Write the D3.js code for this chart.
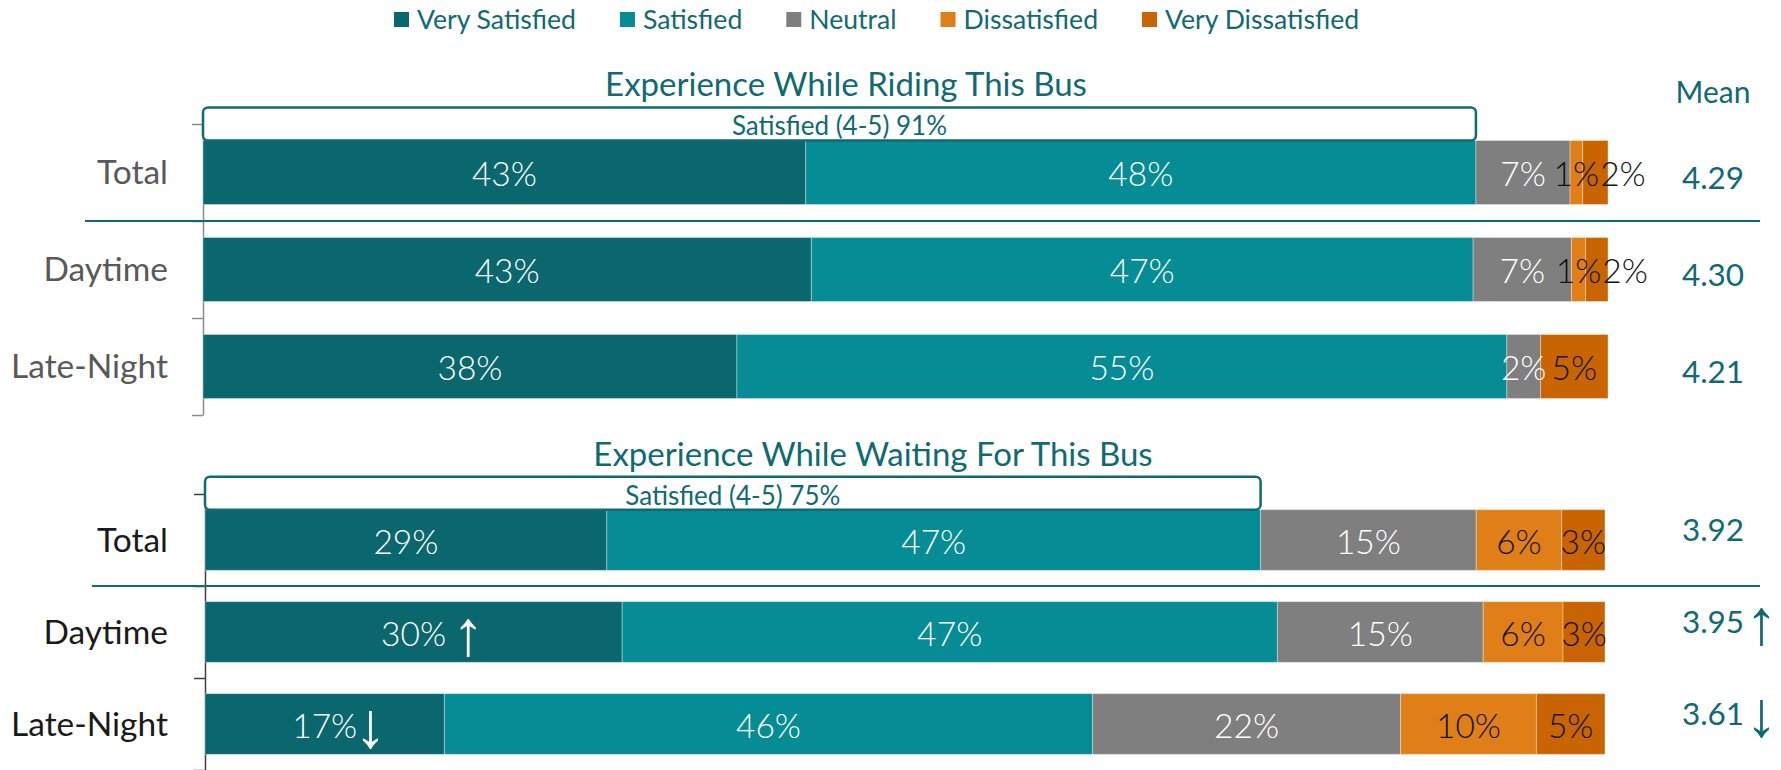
<!DOCTYPE html>
<html>
<head>
<meta charset="utf-8">
<script src="https://cdn.jsdelivr.net/npm/d3@7"></script>
<style>
  body { margin: 0; background: #fff; }
  svg { font-family: Lato, "Open Sans", sans-serif; }
</style>
</head>
<body>
<div id="chart"></div>
<script>
// categories and answer levels
const categories = ["Total", "Daytime", "Late-Night"];
const levels = ["Very Satisfied", "Satisfied", "Neutral", "Dissatisfied", "Very Dissatisfied"];
const levelColors = ["#0b676e", "#058c94", "#7f7f7f", "#e07f17", "#c96402"];

// riding the bus (% per level, rows = categories)
const ridingTitle = "Experience While Riding This Bus";
const ridingValues = [
    [42.9, 47.7, 6.7, 0.9, 1.8],
    [43.3, 47.1, 7.0, 1.0, 1.6],
    [38.0, 54.8, 2.4, 0.0, 4.8]
];
const ridingMeans = ["4.29", "4.30", "4.21"];
const ridingMeanTrend = ["", "", ""];
const ridingBarTrend = ["", "", ""];
const ridingSatisfied = 91;

// waiting for the bus
const waitingTitle = "Experience While Waiting For This Bus";
const waitingValues = [
    [28.7, 46.7, 15.4, 6.1, 3.1],
    [29.8, 46.8, 14.7, 5.7, 3.0],
    [17.1, 46.3, 22.0, 9.7, 4.9]
];
const waitingMeans = ["3.92", "3.95", "3.61"];
const waitingMeanTrend = ["", "↑", "↓"];
const waitingBarTrend = ["", "↑", "↓"];
const waitingBarGap = [0, 6, -3];
const waitingSatisfied = 75;

const teal = "#0f6a71";
const W = 1781, H = 770;
const arrowFont = "'Liberation Sans', 'DejaVu Sans', sans-serif";
const arrowSize = 64;

let svg = d3.select("#chart")
    .append("svg")
    .attr("width", W)
    .attr("height", H);

// legend
let legend = svg.append("g");
let lx = 394;
levels.forEach((l, i) => {
    legend.append("rect")
        .attr("x", lx).attr("y", 12)
        .attr("width", 15).attr("height", 15)
        .attr("fill", levelColors[i]);
    let t = legend.append("text")
        .attr("x", lx + 23).attr("y", 20)
        .attr("dy", "0.35em")
        .attr("font-size", 26.6)
        .attr("fill", teal)
        .text(l);
    lx += 23 + t.node().getComputedTextLength() + 44;
});

function arrow(g, x, cy, s, color) {
    g.append("text")
        .attr("x", x).attr("y", cy)
        .attr("dy", "0.33em")
        .attr("font-family", arrowFont)
        .attr("font-weight", 400)
        .attr("font-size", arrowSize)
        .attr("fill", color)
        .text(s);
}

function drawPanel(p) {
    let g = svg.append("g");

    let x = d3.scaleLinear().domain([0, 100]).range([p.x0, p.x1]);
    let y = d3.scaleBand()
        .domain(categories)
        .range([p.yTop, p.yTop + p.step * categories.length])
        .paddingInner(0.34)
        .paddingOuter(0.17);

    let rows = categories.map((c, i) => {
        let o = { category: c };
        levels.forEach((l, j) => o[l] = p.values[i][j]);
        return o;
    });
    let series = d3.stack().keys(levels)(rows);

    // category axis, ticks between categories
    let edges = d3.scaleLinear().domain([0, categories.length])
        .range([p.yTop, p.yTop + p.step * categories.length]);
    let axis = g.append("g")
        .attr("transform", "translate(" + p.x0 + ",0)")
        .call(d3.axisLeft(edges).tickValues(d3.range(categories.length + 1))
            .tickFormat("").tickSizeOuter(0).tickSizeInner(11));
    axis.selectAll("path, line").attr("stroke", p.axisColor).attr("stroke-width", 1.5);

    // bars
    g.append("g")
        .selectAll("g")
        .data(series)
        .enter()
        .append("g")
        .attr("fill", (d, i) => levelColors[i])
        .selectAll("rect")
        .data(d => d)
        .enter()
        .append("rect")
        .attr("x", d => x(d[0]))
        .attr("y", d => y(d.data.category))
        .attr("width", d => x(d[1]) - x(d[0]))
        .attr("height", y.bandwidth())
        .attr("stroke", "#ffffff")
        .attr("stroke-opacity", 0.35)
        .attr("stroke-width", 1);

    // separator under Total
    g.append("line")
        .attr("x1", p.sepX0).attr("x2", 1760)
        .attr("y1", edges(1)).attr("y2", edges(1))
        .attr("stroke", teal).attr("stroke-width", 2);

    // segment labels
    let labels = g.append("g")
        .attr("font-size", 33.5)
        .attr("font-weight", 300);
    categories.forEach((c, i) => {
        let prevRight = -Infinity;
        series.forEach((s, j) => {
            let d = s[i];
            let v = d[1] - d[0];
            if (v <= 0) return;
            let cx = (x(d[0]) + x(d[1])) / 2;
            let cy = y(c) + y.bandwidth() / 2 + 2;
            let t = labels.append("text")
                .attr("y", cy)
                .attr("dy", "0.35em")
                .attr("fill", j < 3 ? "#ffffff" : "#111111")
                .text(Math.round(v) + "%");
            let w = t.node().getComputedTextLength();
            let left = Math.max(cx - w / 2, prevRight + 1);
            t.attr("x", left);
            prevRight = left + w;
            if (j === 0 && p.barTrend[i]) {
                arrow(labels, left + w + p.barGap[i], cy, p.barTrend[i], "#ffffff");
            }
        });
    });

    // category names
    g.append("g")
        .selectAll("text")
        .data(categories)
        .enter()
        .append("text")
        .attr("x", 168)
        .attr("y", d => y(d) + y.bandwidth() / 2)
        .attr("dy", "0.35em")
        .attr("text-anchor", "end")
        .attr("font-size", 33.5)
        .attr("fill", p.labelColor)
        .text(d => d);

    // satisfied (4-5) box
    let top2 = p.values[0][0] + p.values[0][1];
    let by = y(categories[0]) - 33;
    g.append("rect")
        .attr("x", x(0)).attr("y", by)
        .attr("width", x(top2) - x(0)).attr("height", 33)
        .attr("rx", 5)
        .attr("fill", "#ffffff")
        .attr("stroke", teal).attr("stroke-width", 2.5);
    g.append("text")
        .attr("x", (x(0) + x(top2)) / 2)
        .attr("y", by + 28)
        .attr("text-anchor", "middle")
        .attr("font-size", 26)
        .attr("fill", teal)
        .text("Satisfied (4-5) " + p.satisfied + "%");

    // title
    g.append("text")
        .attr("x", p.titleX)
        .attr("y", by - 11)
        .attr("text-anchor", "middle")
        .attr("font-size", 33)
        .attr("fill", teal)
        .text(p.title);

    // means
    categories.forEach((c, i) => {
        let my = y(c) + y.bandwidth() / 2 + p.meanDy;
        let t = g.append("text")
            .attr("x", 1713).attr("y", my)
            .attr("dy", "0.35em")
            .attr("text-anchor", "middle")
            .attr("font-size", 31.5)
            .attr("fill", teal)
            .text(p.means[i]);
        if (p.meanTrend[i]) {
            let w = t.node().getComputedTextLength();
            arrow(g, 1713 + w / 2 + 1, my + 1, p.meanTrend[i], teal);
        }
    });
}

drawPanel({
    title: ridingTitle, values: ridingValues, means: ridingMeans,
    meanTrend: ridingMeanTrend, barTrend: ridingBarTrend, barGap: [0, 0, 0],
    satisfied: ridingSatisfied,
    x0: 203, x1: 1608, yTop: 124, step: 97, titleX: 846, meanDy: 5,
    labelColor: "#595959", axisColor: "#8c8c8c", sepX0: 85
});

drawPanel({
    title: waitingTitle, values: waitingValues, means: waitingMeans,
    meanTrend: waitingMeanTrend, barTrend: waitingBarTrend, barGap: waitingBarGap,
    satisfied: waitingSatisfied,
    x0: 205, x1: 1605, yTop: 494, step: 92, titleX: 873, meanDy: -10,
    labelColor: "#1a1a1a", axisColor: "#404040", sepX0: 92
});

// mean header
svg.append("text")
    .attr("x", 1713).attr("y", 103)
    .attr("text-anchor", "middle")
    .attr("font-size", 30)
    .attr("fill", teal)
    .text("Mean");
</script>
</body>
</html>
